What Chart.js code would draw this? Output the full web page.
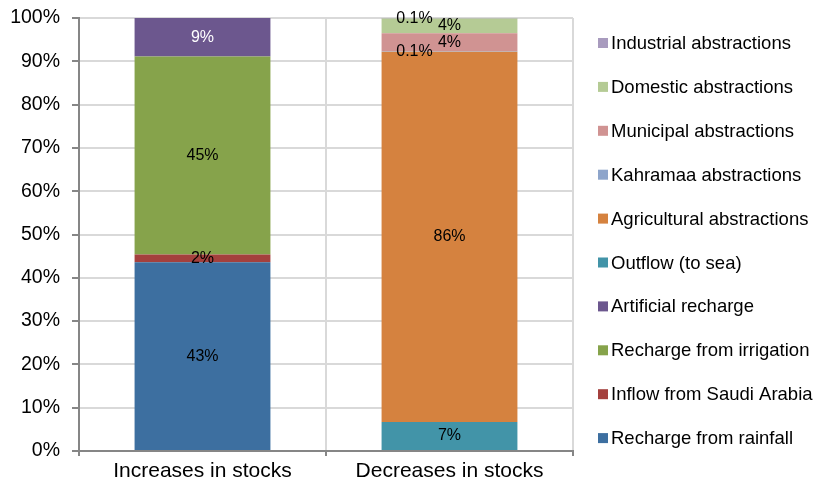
<!DOCTYPE html>
<html>
<head>
<meta charset="utf-8">
<script src="https://cdn.jsdelivr.net/npm/chart.js@4.4.0/dist/chart.umd.min.js"></script>
<style>
  html, body { margin: 0; padding: 0; background: #fff; }
  #wrap { width: 817px; height: 486px; }
</style>
</head>
<body>
<div id="wrap"><canvas id="stocksChart" width="817" height="486"></canvas></div>
<script>
const categories = ['Increases in stocks', 'Decreases in stocks'];

// series, bottom to top; [increases, decreases]
const seriesNames = [
  'Recharge from rainfall',
  'Inflow from Saudi Arabia',
  'Recharge from irrigation',
  'Artificial recharge',
  'Outflow (to sea)',
  'Agricultural abstractions',
  'Kahramaa abstractions',
  'Municipal abstractions',
  'Domestic abstractions',
  'Industrial abstractions'
];
const rainfall = [43.6, null];
const inflowSaudi = [1.8, null];
const irrigation = [45.7, null];
const artificial = [8.9, null];
const outflow = [null, 6.7];
const agricultural = [null, 85.5];
const kahramaa = [null, 0.1];
const municipal = [null, 4.2];
const domestic = [null, 3.4];
const industrial = [null, 0.1];

// label shown on each segment (as printed on the chart)
const segmentLabels = ['43%', '2%', '45%', '9%', '7%', '86%', '0.1%', '4%', '4%', '0.1%'];

const yTicks = [0, 10, 20, 30, 40, 50, 60, 70, 80, 90, 100];

const colours = ['#3d6fa0', '#a4403d', '#86a34b', '#6c578e', '#4294a8',
                 '#d5823f', '#8ea5cb', '#d09392', '#b5cb95', '#a89bbe'];
const labelColours = ['#000', '#000', '#000', '#fff', '#000', '#000', '#000', '#000', '#000', '#000'];

const seriesValues = [rainfall, inflowSaudi, irrigation, artificial, outflow,
                      agricultural, kahramaa, municipal, domestic, industrial];

const FONT = '"Liberation Sans", Arial, sans-serif';

const datasets = seriesNames.map((name, i) => ({
  label: name,
  data: seriesValues[i],
  backgroundColor: colours[i],
  borderWidth: 0,
  barPercentage: 1,
  categoryPercentage: 0.55
}));

// segment value labels
const segmentLabelPlugin = {
  id: 'segmentLabels',
  afterDatasetsDraw(chart) {
    const ctx = chart.ctx;
    ctx.save();
    ctx.font = '16px ' + FONT;
    ctx.textAlign = 'center';
    ctx.textBaseline = 'middle';
    chart.data.datasets.forEach((ds, i) => {
      const meta = chart.getDatasetMeta(i);
      meta.data.forEach((bar, j) => {
        const v = ds.data[j];
        if (v === null || v === undefined) return;
        let x = bar.x;
        let y = (bar.y + bar.base) / 2;
        if (v < 0.5) x -= 35; // tiny slices: push label aside
        ctx.fillStyle = labelColours[i];
        ctx.fillText(segmentLabels[i], x, y);
      });
    });
    ctx.restore();
  }
};

// legend on the right, top item = last series
const sideLegendPlugin = {
  id: 'sideLegend',
  afterDraw(chart) {
    const ctx = chart.ctx;
    const ds = chart.data.datasets;
    ctx.save();
    ctx.font = '18.5px ' + FONT;
    ctx.textAlign = 'left';
    ctx.textBaseline = 'middle';
    for (let k = 0; k < ds.length; k++) {
      const item = ds[ds.length - 1 - k];
      const y = 43 + k * 43.9;
      ctx.fillStyle = item.backgroundColor;
      ctx.fillRect(598, y - 5, 10, 10);
      ctx.fillStyle = '#000';
      ctx.fillText(item.label, 611, y + 1);
    }
    ctx.restore();
  }
};

new Chart(document.getElementById('stocksChart').getContext('2d'), {
  type: 'bar',
  data: { labels: categories, datasets },
  options: {
    responsive: false,
    animation: false,
    layout: { padding: { left: 0, top: 18, right: 244, bottom: 0 } },
    plugins: {
      legend: { display: false },
      tooltip: { enabled: false }
    },
    scales: {
      x: {
        stacked: true,
        grid: {
          offset: true,
          color: '#d9d9d9',
          lineWidth: 2,
          tickColor: '#868686',
          tickLength: 5,
          tickWidth: 2
        },
        border: { color: '#868686', width: 2 },
        ticks: { color: '#000', font: { family: FONT, size: 21 }, padding: 3 },
        afterFit(scale) { scale.height = 35; }
      },
      y: {
        stacked: true,
        min: 0,
        max: 100,
        afterBuildTicks(scale) { scale.ticks = yTicks.map(v => ({ value: v })); },
        grid: {
          color: '#d9d9d9',
          lineWidth: 2,
          tickColor: '#868686',
          tickLength: 7,
          tickWidth: 2
        },
        border: { color: '#868686', width: 2 },
        ticks: {
          color: '#000',
          font: { family: FONT, size: 19.5 },
          padding: 12,
          callback: v => v + '%'
        },
        afterFit(scale) {
          scale.width = 79;
          scale.paddingTop = 0;
          scale.paddingBottom = 0;
        }
      }
    }
  },
  plugins: [segmentLabelPlugin, sideLegendPlugin]
});
</script>
</body>
</html>
